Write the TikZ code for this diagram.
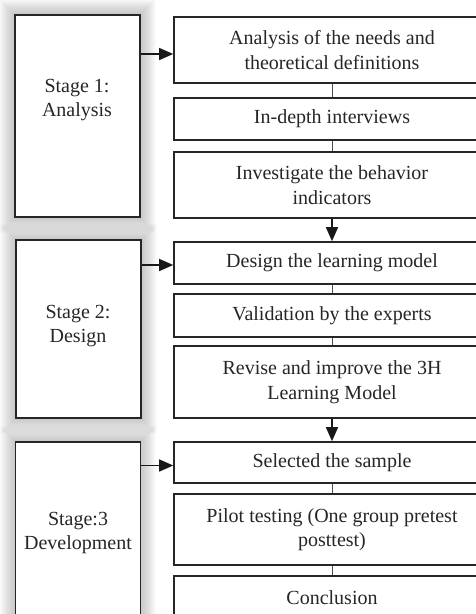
\documentclass[tikz,border=0pt]{standalone}
\usepackage{fontspec}
\setmainfont{Liberation Serif}
\usetikzlibrary{arrows.meta,backgrounds}

\begin{document}
\begin{tikzpicture}[x=1pt,y=-1pt,
    stagebox/.style={draw=black!85,line width=1.6pt,fill=white,minimum width=125pt},
    stepbox/.style={draw=black!85,line width=1.6pt,fill=white,minimum width=316pt,
      inner sep=0pt,align=center,font=\fontsize{20}{24.5}\selectfont,text=black!85},
    stagetext/.style={align=center,font=\fontsize{20}{24.5}\selectfont,text=black!85},
    glow/.style={fill=black,opacity=0.016},
    flow/.style={-{Triangle[length=14pt,width=12pt]},line width=1.4pt,black!90},
    link/.style={line width=0.8pt,black!70}]
    \useasboundingbox (0,0) rectangle (476,614);
    \clip (0,0) rectangle (476,614);

    % Stages
    \node[stagebox, minimum height=202pt] (s1) at (77.5,116) {};
    \node[stagebox, minimum height=178pt] (s2) at (78.5,329) {};
    \node[stagebox, minimum height=182pt] (s3) at (78,533) {};
    \node[stagetext] (t1) at (77,100) {Stage 1:\\Analysis};
    \node[stagetext] (t2) at (78,326) {Stage 2:\\Design};
    \node[stagetext] (t3) at (78,533) {Stage:3\\Development};

    % soft shadow round the stages
    \begin{scope}[on background layer]
        \foreach \s in {s1,s2,s3}
            \foreach \r in {1,...,15}
                \fill[glow] ([shift={(-\r pt,-\r pt)}]\s.south west) rectangle ([shift={(\r pt,\r pt)}]\s.north east);
    \end{scope}

    % Steps
    \foreach \n/\y/\h/\t in {a/50/66/{Analysis of the needs and\\theoretical definitions},
                             b/119/42/{In-depth interviews},
                             c/185/66/{Investigate the behavior\\indicators},
                             d/263/42/{Design the learning model},
                             e/315.5/43/{Validation by the experts},
                             f/382/72/{Revise and improve the 3H\\Learning Model},
                             g/462.5/41/{Selected the sample},
                             h/529.5/71/{Pilot testing (One group pretest\\posttest)},
                             i/598/44/{Conclusion}} {
        \node[stepbox, minimum height=\h pt] (\n) at (332,\y) {\t};
    }

    % Links
    \draw[link] (a) -- (b);
    \draw[link] (b) -- (c);
    \draw[link] (d) -- (e);
    \draw[link] (e) -- (f);
    \draw[link] (g) -- (h);
    \draw[link] (h) -- (i);
    \draw[flow] (c) -- (d);
    \draw[flow] (f) -- (g);

    \draw[flow] ([yshift=-4pt]s1.east |- a.west) -- ([yshift=-4pt]a.west);
    \draw[flow] ([yshift=-2pt]s2.east |- d.west) -- ([yshift=-2pt]d.west);
    \draw[flow] ([yshift=-3pt]s3.east |- g.west) -- ([yshift=-3pt]g.west);
\end{tikzpicture}
\end{document}
